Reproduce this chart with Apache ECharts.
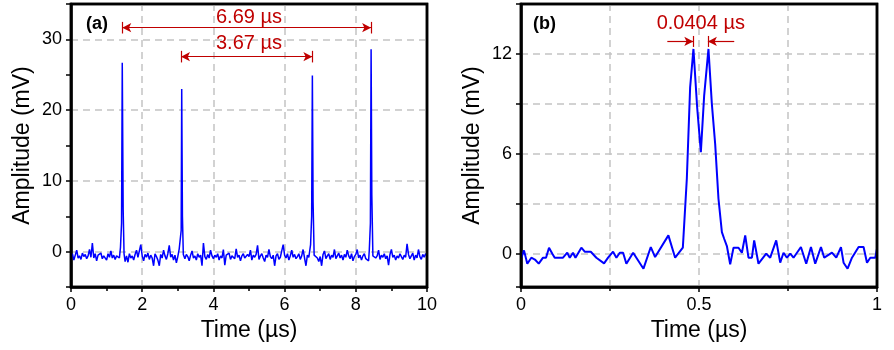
<!DOCTYPE html>
<html>
<head>
<meta charset="utf-8">
<script src="https://cdn.jsdelivr.net/npm/echarts@6/dist/echarts.min.js"></script>
<style>
html,body{margin:0;padding:0;background:#fff;}
#chart{width:894px;height:350px;}
</style>
</head>
<body>
<div id="chart"></div>
<script>
// ---------- Panel (a): pulse train ----------
const aStart = 0;
const aStep = 0.04; // µs between baseline samples
const aNoise = [
 -0.8,-0.3,-1.2,-0.5,0.2,-0.9,-0.6,-1.1,-0.2,-0.7,
 -0.4,-1.0,-0.6,0.3,-0.8,1.2,-0.9,-0.3,-1.3,-0.5,
 -0.7,-0.2,-1.0,-0.6,-0.4,-1.2,-0.3,-0.8,0.1,-0.9,
 -0.5,-1.1,-0.6,-0.4,-0.9,-0.3,-0.5,-0.8,-1.4,-0.6,
 -1.5,-0.3,-0.9,-0.6,-1.2,-0.4,0.2,-0.8,-1.0,1.0,
 -0.6,-1.3,-0.4,-0.8,-0.2,-1.1,-0.5,-0.9,-2.0,-0.3,
 -0.7,-1.2,-2.0,-0.4,-0.9,0.2,-0.6,-1.1,-0.3,0.9,
 -0.8,-0.4,-1.2,-0.5,-1.6,-0.7,0.4,-0.9,-0.6,-0.8,
 -1.0,-0.4,-0.7,-1.3,-0.5,0.1,-0.9,-0.6,-1.2,-0.3,
 -0.8,-0.5,-2.0,1.2,-0.7,-1.1,-0.4,-0.9,0.2,-0.6,
 -1.0,-0.5,-0.8,-0.3,-1.2,-0.6,-0.9,0.3,-1.9,-0.5,
 -0.7,-0.2,-1.1,-0.6,-0.4,-1.0,0.4,-0.8,-0.5,-1.3,
 -0.6,-0.3,-0.9,-1.0,-0.4,-0.7,0.2,-1.2,-0.5,-0.8,
 -0.4,0.9,-1.1,-0.6,-0.3,-0.9,-1.4,-0.5,-0.8,0.3,
 -0.7,-1.0,-0.5,-2.0,-0.6,-0.3,-1.1,-0.8,0.1,1.0,
 -0.5,-0.9,-0.3,-1.2,-0.6,0.2,-0.8,-0.4,-1.0,-0.7,
 -0.3,-1.1,-0.6,0.3,-0.9,-2.0,-0.5,-0.8,-0.4,0.5,
 -0.6,-1.3,-0.5,-0.9,-1.4,-0.7,-2.0,-0.4,0.1,-1.0,
 -0.6,-0.3,-1.1,-0.5,-0.8,0.3,-1.0,-0.6,-0.2,-0.9,
 -0.5,-1.2,-0.4,-0.8,0.2,-0.6,-1.0,-0.3,-1.3,-0.7,
 -0.4,0.3,-0.9,-0.5,-1.2,-0.6,-0.3,-1.0,-0.8,-1.3,
 -0.5,-0.7,-1.4,-0.4,-0.9,-0.6,0.2,-1.1,-0.5,-0.8,
 -0.3,-1.0,-0.6,-1.9,-0.4,0.3,-0.8,-0.5,-1.2,-0.6,
 -0.9,-0.3,-0.7,-1.1,-0.5,-0.8,1.1,-0.4,-1.0,-0.6,
 -0.2,-1.2,-0.5,-0.9,0.3,-0.7,-1.1,-0.4,-0.8,-0.3,
 -0.6
];
const aSpikeT = [
 [1.39, 1.42, 1.44, 1.465, 1.49],
 [3.07, 3.095, 3.11, 3.13, 3.155],
 [6.73, 6.76, 6.78, 6.80, 6.83],
 [8.38, 8.41, 8.43, 8.45, 8.48]
];
const aSpikeV = [
 [0.6, 4.0, 26.7, 6.0, -0.3],
 [0.2, 3.0, 23.0, 5.0, -0.4],
 [1.0, 5.0, 24.9, 7.0, -0.5],
 [0.3, 4.0, 28.6, 8.0, -0.6]
];
const aXTicks = [0, 2, 4, 6, 8, 10];
const aYTicks = [0, 10, 20, 30];
const aSpans = [[1.44, 8.43, 31.65], [3.09, 6.78, 27.56]]; // [from, to, level]
const aNotes = ['6.69 µs', '3.67 µs'];

// ---------- Panel (b): zoom on one pulse ----------
const bT = [0,0.0084,0.0177,0.029,0.039,0.0498,0.0619,0.0703,0.0787,0.088,0.0947,0.118,0.130,0.137,0.146,0.153,
 0.1695,0.179,0.196,0.2117,0.2333,0.2446,0.2586,0.268,0.2775,0.2868,0.296,0.315,0.344,0.3646,0.3767,0.414,0.433,
 0.4546,0.4658,0.4751,0.4844,0.4948,0.5052,0.5145,0.5266,0.5361,0.5454,0.5547,0.5643,0.5707,0.5783,0.5876,0.5969,
 0.6109,0.6205,0.6298,0.639,0.6486,0.655,0.6671,0.6888,0.7,0.7169,0.7281,0.7374,0.747,0.7563,0.7655,0.7863,0.8012,
 0.8145,0.8265,0.8426,0.8518,0.8735,0.8856,0.8988,0.9061,0.9174,0.9297,0.9483,0.9623,0.9719,0.9812,0.9952,1.0];
const bV = [-0.3,0.2,-0.6,-0.24,-0.35,-0.6,-0.24,-0.24,0.36,0.0,-0.24,-0.24,0.06,-0.24,0.06,-0.24,
 0.36,0.12,0.12,-0.24,-0.58,-0.24,0.12,-0.24,0.06,0.06,-0.6,0.06,-0.9,0.4,-0.2,1.1,-0.24,
 0.36,4.5,10.0,12.3,8.8,6.1,9.5,12.3,9.0,6.6,3.3,1.3,0.9,0.46,-0.64,0.36,
 0.36,0.06,1.1,-0.24,-0.24,0.8,-0.6,0.0,-0.24,0.8,-0.54,0.06,-0.24,0.0,-0.24,0.4,-0.6,
 0.4,-0.6,0.4,-0.24,0.06,-0.24,0.4,-0.54,-0.9,-0.24,0.4,0.4,-0.54,-0.24,-0.24,0.3];
const bXTicks = [0, 0.5, 1];
const bYTicks = [0, 6, 12];
const bMarks = [0.484, 0.525, 12.75]; // left peak, right peak, level
const bNotes = ['0.0404 µs'];

// ---------- build ----------
const FONT = '"Liberation Sans", Arial, sans-serif';
const BLUE = '#0000ff', RED = '#c00000', GRIDC = '#c4c4c4';

const windows = aSpikeT.map(ts => [ts[0] - 0.015, ts[ts.length - 1] + 0.015]);
let aData = [];
aNoise.forEach((v, i) => {
  const t = +(aStart + i * aStep).toFixed(4);
  if (!windows.some(w => t >= w[0] && t <= w[1])) aData.push([t, v]);
});
aSpikeT.forEach((ts, k) => ts.forEach((t, j) => aData.push([t, aSpikeV[k][j]])));
aData.sort((p, q) => p[0] - q[0]);
const bData = bT.map((t, i) => [t, bV[i]]);

const dashed = { show: true, lineStyle: { color: GRIDC, type: [7, 5], width: 1.5 } };
const axLine = { show: true, onZero: false, lineStyle: { color: '#000', width: 2.5 } };
const tick = { show: true, inside: false, length: 5, lineStyle: { color: '#000', width: 1.5 } };
const minor = { show: true, splitNumber: 2, length: 4, lineStyle: { color: '#000', width: 1.5 } };
const lab = { color: '#000', fontSize: 18, fontFamily: FONT, margin: 9 };
const nameSt = { color: '#000', fontSize: 23, fontFamily: FONT };

function bar(x, y, h) { return [{ coord: [x, y - h], symbol: 'none' }, { coord: [x, y + h], symbol: 'none' }]; }

const GA = { left: 71, top: 4, width: 356, height: 283 };
const GB = { left: 521, top: 4, width: 356, height: 283 };
function frameRect(g) {
  return { type: 'rect', z: 100,
    shape: { x: g.left, y: g.top, width: g.width, height: g.height },
    style: { fill: null, stroke: '#000000', lineWidth: 2.5 } };
}

const option = {
  animation: false,
  backgroundColor: '#fff',
  grid: [
    Object.assign({ show: true, borderColor: '#000', borderWidth: 2.5, backgroundColor: 'rgba(0,0,0,0)' }, GA),
    Object.assign({ show: true, borderColor: '#000', borderWidth: 2.5, backgroundColor: 'rgba(0,0,0,0)' }, GB)
  ],
  xAxis: [
    { type: 'value', gridIndex: 0, min: aXTicks[0], max: aXTicks[aXTicks.length - 1], interval: aXTicks[1] - aXTicks[0],
      axisLine: axLine, axisTick: tick, minorTick: minor, splitLine: dashed, axisLabel: lab,
      name: 'Time (µs)', nameLocation: 'middle', nameGap: 27, nameTextStyle: nameSt },
    { type: 'value', gridIndex: 1, min: bXTicks[0], max: bXTicks[bXTicks.length - 1], interval: bXTicks[1] - bXTicks[0],
      axisLine: axLine, axisTick: tick, minorTick: minor, splitLine: dashed, minorSplitLine: dashed, axisLabel: lab,
      name: 'Time (µs)', nameLocation: 'middle', nameGap: 27, nameTextStyle: nameSt }
  ],
  yAxis: [
    { type: 'value', gridIndex: 0, min: -5, max: 35, interval: 5,
      axisLine: axLine, axisTick: tick, splitLine: { show: false },
      axisLabel: Object.assign({}, lab, { formatter: v => (aYTicks.includes(v) ? String(v) : '') }),
      name: 'Amplitude (mV)', nameLocation: 'middle', nameGap: 37, nameTextStyle: nameSt },
    { type: 'value', gridIndex: 0, min: -5, max: 35, splitNumber: 4, position: 'right',
      axisLine: { show: false }, axisTick: { show: false }, axisLabel: { show: false }, splitLine: dashed },
    { type: 'value', gridIndex: 1, min: -2, max: 15, splitNumber: 6,
      axisLine: axLine, axisTick: tick, splitLine: dashed,
      axisLabel: Object.assign({}, lab, { formatter: v => (bYTicks.includes(v) ? String(v) : '') }),
      name: 'Amplitude (mV)', nameLocation: 'middle', nameGap: 37, nameTextStyle: nameSt }
  ],
  series: [
    { type: 'line', xAxisIndex: 0, yAxisIndex: 0, data: aData, showSymbol: false, sampling: null,
      lineStyle: { color: BLUE, width: 1.5 }, z: 3,
      markLine: { silent: true, animation: false, symbol: ['arrow', 'arrow'], symbolSize: [7, 9],
        label: { show: false }, lineStyle: { color: RED, width: 1.2, type: 'solid' },
        data: [
          [{ coord: [aSpans[0][0], aSpans[0][2]] }, { coord: [aSpans[0][1], aSpans[0][2]] }],
          [{ coord: [aSpans[1][0], aSpans[1][2]] }, { coord: [aSpans[1][1], aSpans[1][2]] }],
          bar(aSpans[0][0], aSpans[0][2], 0.82), bar(aSpans[0][1], aSpans[0][2], 0.82),
          bar(aSpans[1][0], aSpans[1][2], 0.82), bar(aSpans[1][1], aSpans[1][2], 0.82)
        ] },
      markPoint: { silent: true, symbol: 'circle', symbolSize: 0, animation: false,
        label: { show: true, position: 'inside', formatter: '{b}', color: RED, fontSize: 20, fontFamily: FONT },
        data: [ { name: aNotes[0], coord: [5.0, 33.1] }, { name: aNotes[1], coord: [5.0, 29.4] } ] } },
    { type: 'line', xAxisIndex: 1, yAxisIndex: 2, data: bData, showSymbol: false, sampling: null,
      lineStyle: { color: BLUE, width: 2 }, z: 3,
      markLine: { silent: true, animation: false, symbol: ['none', 'arrow'], symbolSize: [7, 9],
        label: { show: false }, lineStyle: { color: RED, width: 1.2, type: 'solid' },
        data: [
          [{ coord: [0.411, bMarks[2]] }, { coord: [bMarks[0], bMarks[2]] }],
          [{ coord: [0.599, bMarks[2]] }, { coord: [bMarks[1], bMarks[2]] }],
          bar(bMarks[0], bMarks[2], 0.33), bar(bMarks[1], bMarks[2], 0.33)
        ] },
      markPoint: { silent: true, symbol: 'circle', symbolSize: 0, animation: false,
        label: { show: true, position: 'inside', formatter: '{b}', color: RED, fontSize: 20, fontFamily: FONT },
        data: [ { name: bNotes[0], coord: [0.505, 13.8] } ] } }
  ],
  graphic: [
    frameRect(GA), frameRect(GB),
    { type: 'text', left: 86, top: 15, style: { text: '(a)', fontSize: 18, fontWeight: 'bold', fontFamily: FONT, fill: '#000' } },
    { type: 'text', left: 533, top: 15, style: { text: '(b)', fontSize: 18, fontWeight: 'bold', fontFamily: FONT, fill: '#000' } }
  ]
};

const chart = echarts.init(document.getElementById('chart'), null, { renderer: 'canvas' });
chart.setOption(option);
</script>
</body>
</html>
